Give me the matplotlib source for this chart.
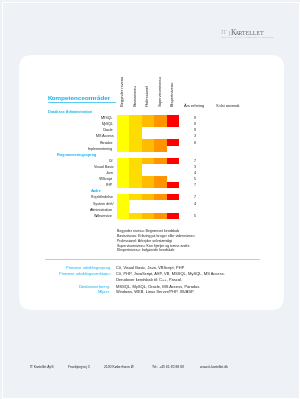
import matplotlib.pyplot as plt
from matplotlib.patches import FancyBboxPatch, Rectangle
from matplotlib.transforms import blended_transform_factory

plt.rcParams['font.family'] = ['Liberation Sans', 'DejaVu Sans']

cyan = '#12b2f0'
dark = '#222222'

# competence levels (columns)
level_names = ['Begynder niveau', 'Basisniveau', 'Professionel',
               'Supervisorniveau', 'Ekspertniveau']
level_colors = ['#ffff00', '#ffdc00', '#ffbb00', '#ff9400', '#ff0000']

# skill groups
group_names = ['Database Administration', 'Programmeringssprog', 'Andre']

db_skills = ['MSSQL', 'MySQL', 'Oracle', 'MS Access', 'Paradox', 'Implementering']
db_levels = [5, 5, 2, 2, 5, 4]
db_years = [9, 9, 9, 3, 8, None]

prog_skills = ['C#', 'Visual Basic', 'Java', 'VBScript', 'PHP']
prog_levels = [5, 2, 2, 4, 5]
prog_years = [7, 3, 4, 5, 7]

other_skills = ['Projektledelse', 'System drift/\nAdministration', 'Webservice']
other_levels = [5, 1, 5]
other_years = [7, 4, 5]

notes = ['Begynder niveau: Begrænset kendskab',
         'Basisniveau: Erfaring på bruger eller videnniveau',
         'Professionel: Arbejder selvstændigt',
         'Supervisorniveau: Kan hjælpe og træne andre',
         'Ekspertniveau: Indgående kendskab']

summary_labels = ['Primære udviklingssprog:', 'Primære udviklingsværktøjer:', '',
                  'Databaseerfaring:', 'Miljøer:']
summary_values = ['C#, Visual Basic, Java, VBScript, PHP',
                  'C#, PHP, JavaScript, ASP, VB, MSSQL, MySQL, MS Access.',
                  'Derudover kendskab til: C++, Pascal.',
                  'MSSQL, MySQL, Oracle, MS Access, Paradox.',
                  'Windows, WEB, Linux Server/PHP, IIS/ASP.']

footer = ['IT Kartellet ApS', 'Fruebjergvej 3', '2100 København Ø.',
          'Tel.: +45 61 60 88 00', 'www.it-kartellet.dk']

fig = plt.figure(figsize=(3, 3.99), dpi=100, facecolor='#eef1f6')

# page background in pixel coordinates
bg = fig.add_axes([0, 0, 1, 1])
bg.set_xlim(0, 300)
bg.set_ylim(399, 0)
bg.axis('off')
bg.add_patch(Rectangle((1.5, 1.5), 297, 396, facecolor='none',
                       edgecolor='white', linewidth=0.8))
bg.add_patch(FancyBboxPatch((19, 55), 265, 255,
                            boxstyle='round,pad=0,rounding_size=13',
                            facecolor='white', edgecolor='none'))

# logo
bg.text(221, 33, 'IT', fontsize=5.2, color='#a9bdd6', family='Liberation Serif',
        va='center', ha='left')
bg.text(228.5, 33, '|', fontsize=5.2, color='#8a8a8a', family='Liberation Serif',
        va='center', ha='left')
bg.text(231, 33, 'K', fontsize=5.6, color='#606060', family='Liberation Serif',
        va='center', ha='left')
bg.text(235, 33.3, 'ARTELLET', fontsize=4.3, color='#606060',
        family='Liberation Serif', va='center', ha='left')
bg.text(221, 37.6, 'RÅDGIVNING · UDVIKLING · IT-KOMPETENCE · KONSULENTER',
        fontsize=1.3, color='#9fb3cc', va='center', ha='left')

# heading
bg.text(48, 98, 'Kompetenceområder', fontsize=4.6, fontweight='bold',
        color=cyan, va='center', ha='left')
bg.plot([48, 115], [101.5, 101.5], color=cyan, linewidth=0.5)

# bar area
ax = fig.add_axes([117 / 300, 1 - 218.75 / 399, 62 / 300, (218.75 - 108.95) / 399])
ax.set_xlim(0, 5)
ax.set_ylim(17.5, -0.5)
ax.axis('off')
tr = blended_transform_factory(bg.transData, ax.transData)

for i, name in enumerate(level_names):
    ax.text(i + 0.5, -0.95, name, rotation=90, ha='center', va='bottom',
            fontsize=2.9, color=dark)
bg.text(194, 106, 'Års erfaring', fontsize=2.8, color=dark, ha='center', va='center')
bg.text(216, 106, 'Sidst anvendt', fontsize=2.8, color=dark, ha='left', va='center')

groups = [(db_skills, db_levels, db_years),
          (prog_skills, prog_levels, prog_years),
          (other_skills, other_levels, other_years)]
header_x = [48, 57, 91]

row = 0
for gname, hx, (skills, levels, years) in zip(group_names, header_x, groups):
    ax.text(hx, row, gname, transform=tr, fontsize=2.7, fontweight='bold',
            color=cyan, ha='left', va='center')
    row += 1
    first = row
    for skill, lvl, yrs in zip(skills, levels, years):
        lines = skill.split('\n')
        n = len(lines)
        center = row + (n - 1) / 2
        for k in range(lvl):
            ax.barh(center, 1, left=k, height=n, color=level_colors[k], linewidth=0)
        for j, line in enumerate(lines):
            ax.text(-0.3, row + j, line, ha='right', va='center',
                    fontsize=2.6, color=dark)
        if yrs is not None:
            ax.text(195, row, str(yrs), transform=tr, ha='center', va='center',
                    fontsize=2.7, color=dark)
        row += n
    ax.plot([213, 213], [first - 0.5, row - 0.5], transform=tr,
            color='#b0b0b0', linewidth=0.5)

# level description
note_y = [231, 236, 241, 246, 250.5]
for y, t in zip(note_y, notes):
    bg.text(117, y, t, fontsize=2.5, color=dark, ha='left', va='center')

bg.plot([45, 259], [259, 259], color='#7fd6f7', linewidth=0.6)

summary_y = [268.3, 274, 280, 286.7, 291.7]
for y, lab, val in zip(summary_y, summary_labels, summary_values):
    bg.text(111, y, lab, fontsize=2.9, color=cyan, ha='right', va='center')
    bg.text(116, y, val, fontsize=2.9, color=dark, ha='left', va='center')

footer_x = [30, 68, 104, 152, 200]
for x, t in zip(footer_x, footer):
    bg.text(x, 367, t, fontsize=2.4, color=dark, ha='left', va='center')

fig.savefig('out.png', dpi=100, facecolor=fig.get_facecolor())
